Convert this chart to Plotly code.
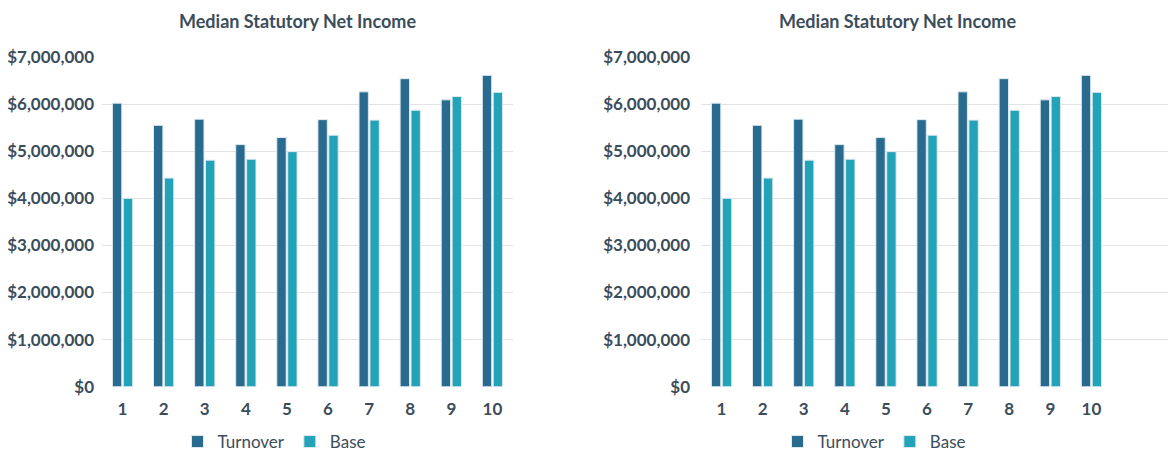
import plotly.graph_objects as go

categories = [1, 2, 3, 4, 5, 6, 7, 8, 9, 10]
turnover = [6020000, 5550000, 5680000, 5140000, 5290000, 5670000, 6260000, 6540000, 6090000, 6610000]
base = [4000000, 4430000, 4810000, 4830000, 4990000, 5340000, 5660000, 5870000, 6160000, 6250000]
y_ticks = [0, 1000000, 2000000, 3000000, 4000000, 5000000, 6000000, 7000000]
y_tick_text = ["$0", "$1,000,000", "$2,000,000", "$3,000,000", "$4,000,000",
               "$5,000,000", "$6,000,000", "$7,000,000"]
title_text = "Median Statutory Net Income"

C_TURN = "#286b8e"
C_BASE = "#23a3b8"
TXT = "#3b4d5a"
FONT = "Lato"

# page has an 8px body margin; work in page pixels and convert
OFF = 8
W, H = 1176 - OFF, 453 - OFF
fig = go.Figure()

for xa, ya, lg in [("x", "y", "legend"), ("x2", "y2", "legend2")]:
    fig.add_trace(go.Bar(x=categories, y=turnover, name="Turnover", xaxis=xa, yaxis=ya,
                         legend=lg, marker=dict(color=C_TURN, line=dict(color="#dfe9ef", width=1))))
    fig.add_trace(go.Bar(x=categories, y=base, name="Base", xaxis=xa, yaxis=ya,
                         legend=lg, marker=dict(color=C_BASE, line=dict(color="#dfe9ef", width=1))))

def ypx(p):
    return 1 - (p - OFF) / H

def xpx(p):
    return (p - OFF) / W

common_y = dict(range=[0, 7000000], tickvals=y_ticks, ticktext=y_tick_text,
                showgrid=True, gridcolor="#e3e3e3", gridwidth=1, zeroline=False,
                showline=False, ticks="", fixedrange=True,
                tickfont=dict(family=FONT, size=17, color=TXT, weight=700),
                domain=[ypx(386.7), ypx(57)])
common_x = dict(tickvals=categories, ticktext=[str(c) for c in categories],
                showgrid=False, zeroline=False, showline=False, ticks="",
                ticklabelstandoff=10,
                tickfont=dict(family=FONT, size=17, color=TXT, weight=700))

left_px = (102, 513)
right_px = (701, 1176)
cat_px = (left_px[1] - left_px[0]) / 10.0

fig.update_layout(
    width=W, height=H,
    margin=dict(l=0, r=0, t=0, b=0, autoexpand=False),
    paper_bgcolor="white", plot_bgcolor="white",
    barmode="group", bargap=0.47, bargroupgap=0.14,
    xaxis=dict(common_x, domain=[xpx(left_px[0]), xpx(left_px[1])], range=[0.5, 10.5], anchor="y"),
    yaxis=dict(common_y, anchor="x", ticklabelstandoff=7),
    xaxis2=dict(common_x, domain=[xpx(right_px[0]), min(1.0, xpx(right_px[1]))],
                range=[0.5, 0.5 + (right_px[1] - right_px[0]) / cat_px], anchor="y2"),
    yaxis2=dict(common_y, anchor="x2", ticklabelstandoff=10),
    legend=dict(orientation="h", x=xpx(274), xanchor="center", y=ypx(442), yanchor="middle",
                font=dict(family=FONT, size=17, color=TXT), itemwidth=30,
                bgcolor="rgba(0,0,0,0)"),
    legend2=dict(orientation="h", x=xpx(874), xanchor="center", y=ypx(442), yanchor="middle",
                 font=dict(family=FONT, size=17, color=TXT), itemwidth=30,
                 bgcolor="rgba(0,0,0,0)"),
    showlegend=True,
    annotations=[
        dict(text="<b>" + title_text + "</b>", x=xpx(297), y=1.0, xref="paper", yref="paper",
             xanchor="center", yanchor="top", showarrow=False,
             font=dict(family=FONT, size=18, color=TXT, weight=900)),
        dict(text="<b>" + title_text + "</b>", x=xpx(897), y=1.0, xref="paper", yref="paper",
             xanchor="center", yanchor="top", showarrow=False,
             font=dict(family=FONT, size=18, color=TXT, weight=900)),
    ],
)

fig.write_html("out.html")
